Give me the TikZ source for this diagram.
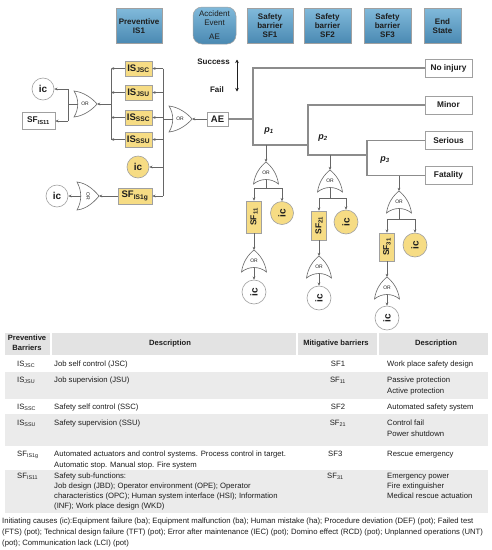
\documentclass[tikz,border=0pt]{standalone}
\usepackage{fontspec}
\setmainfont{Liberation Sans}
\usetikzlibrary{arrows.meta,shapes.geometric}
\definecolor{ylw}{HTML}{F6DC84}
\definecolor{bdr}{HTML}{A0A0A0}
\definecolor{lin}{HTML}{666666}
\definecolor{trc}{HTML}{8C8C8C}
\definecolor{blueT}{HTML}{80B9DA}
\definecolor{blueB}{HTML}{4A89B2}
\definecolor{rowg}{HTML}{EBEBEB}
\definecolor{hdrg}{HTML}{E3E3E3}
\definecolor{txt}{HTML}{1E1E1E}
\tikzset{
  gate/.style={draw=lin, line width=0.6pt, fill=white},
  gtxt/.style={font=\fontsize{5}{6}\selectfont, inner sep=0pt, text=txt},
  orh/.pic={
    \draw[gate] (0,-13) .. controls (10,-12) and (19,-5) .. (23,0) .. controls (19,5) and (10,12) .. (0,13) .. controls (5,5) and (5,-5) .. (0,-13) -- cycle;
    \node[gtxt] (-lbl) at (11,0) {OR};
    \coordinate (-tip) at (23,0);
    \coordinate (-back) at (3.75,0);
  },
  orhr/.pic={
    \draw[gate] (0,-14) .. controls (10,-13) and (18,-5) .. (22,0) .. controls (18,5) and (10,13) .. (0,14) .. controls (5,5) and (5,-5) .. (0,-14) -- cycle;
    \node[gtxt, rotate=-90] (-lbl) at (11,0) {OR};
    \coordinate (-tip) at (22,0);
    \coordinate (-back) at (3.75,0);
  },
  orv/.pic={
    \draw[gate] (0,0) .. controls (5,4) and (11,11) .. (12.5,22) .. controls (5,16) and (-5,16) .. (-12.5,22) .. controls (-11,11) and (-5,4) .. (0,0) -- cycle;
    \node[gtxt] (-lbl) at (0,10.5) {OR};
    \coordinate (-tip) at (0,0);
    \coordinate (-out) at (0,17.5);
  },
  hdr/.style={draw=bdr, line width=0.5pt, top color=blueT, bottom color=blueB, minimum width=46pt, minimum height=35pt, align=center, inner sep=1pt, font=\bfseries\fontsize{8}{9}\selectfont, text=txt},
  ybox/.style={draw=bdr, line width=0.6pt, fill=ylw, inner sep=1pt, font=\bfseries\fontsize{9.5}{10}\selectfont, text=txt},
  wbox/.style={draw=bdr, line width=0.6pt, fill=white, inner sep=1pt, font=\bfseries\fontsize{8.3}{10}\selectfont, text=txt},
  ycirc/.style={circle, draw=bdr, line width=0.6pt, fill=ylw, minimum size=22pt, inner sep=0pt, font=\bfseries\fontsize{10}{11}\selectfont, text=txt},
  wcirc/.style={circle, draw=bdr, line width=0.6pt, fill=white, minimum size=22pt, inner sep=0pt, font=\bfseries\fontsize{10}{11}\selectfont, text=txt},
  ln/.style={draw=lin, line width=0.7pt},
  arr/.style={draw=lin, line width=0.7pt, -{Stealth[length=3.2pt,width=2.8pt]}},
  trl/.style={draw=trc, line width=1.3pt},
  endbox/.style={draw=bdr, line width=0.6pt, fill=white, minimum width=47pt, minimum height=18pt, inner sep=1pt, font=\bfseries\fontsize{8.3}{10}\selectfont, text=txt},
  lbl/.style={inner sep=0pt, font=\bfseries\fontsize{8}{9}\selectfont, text=txt},
  plbl/.style={inner sep=0pt, font=\bfseries\itshape\fontsize{9}{10}\selectfont, text=txt},
  tt/.style={anchor=base west, inner sep=0pt, font=\fontsize{7.7}{9}\selectfont, text=txt},
  tc/.style={anchor=base, inner sep=0pt, font=\fontsize{7.7}{9}\selectfont, text=txt},
  th/.style={anchor=base, inner sep=0pt, font=\bfseries\fontsize{7.6}{9}\selectfont, text=txt},
}
\begin{document}
\begin{tikzpicture}[x=1pt,y=-1pt]
\useasboundingbox (0,0) rectangle (491,550);
\fill[white] (0,0) rectangle (491,550);

% ---------- header boxes ----------
\node[hdr] (hprev) at (139,26) {Preventive\\IS1};
\node[hdr, rounded corners=9pt, minimum width=43pt, minimum height=37pt, font=\fontsize{8}{9}\selectfont] (hae) at (214.5,25.5) {Accident\\Event\\[5pt]AE};
\node[hdr] (hsf1) at (270,26) {Safety\\barrier\\SF1};
\node[hdr, minimum width=47pt] (hsf2) at (327.5,26) {Safety\\barrier\\SF2};
\node[hdr, minimum width=47pt] (hsf3) at (387.5,26) {Safety\\barrier\\SF3};
\node[hdr, minimum width=37pt] (hend) at (442.5,26) {End\\State};

% ---------- success / fail ----------
\node[lbl, anchor=east] (succ) at (230,62) {Success};
\node[lbl, anchor=east] (fail) at (224,90) {Fail};
\coordinate (sa) at (237,59.5);
\coordinate (sb) at (237,91.5);
\draw[draw=txt, line width=0.8pt, {Stealth[length=3.5pt,width=3.5pt]}-{Stealth[length=3.5pt,width=3.5pt]}] (sa) -- (sb);

% ---------- preventive side ----------
\node[ybox, minimum width=27pt, minimum height=15pt] (isjsc) at (138.5,68.5) {IS\textsubscript{JSC}};
\node[ybox, minimum width=27pt, minimum height=15pt] (isjsu) at (138.5,92.5) {IS\textsubscript{JSU}};
\node[ybox, minimum width=27pt, minimum height=15pt] (isssc) at (138.5,117.5) {IS\textsubscript{SSC}};
\node[ybox, minimum width=27pt, minimum height=15pt] (isssu) at (138.5,139.5) {IS\textsubscript{SSU}};
\node[ycirc] (icy0) at (138,167) {ic};
\node[ybox, minimum width=34pt, minimum height=16pt] (sfis1g) at (135,196) {SF\textsubscript{IS1g}};
\node[wbox, minimum width=33pt, minimum height=17pt] (sfis11) at (38.5,120.5) {SF\textsubscript{IS11}};
\node[wcirc] (icw0) at (43,89) {ic};
\node[wcirc] (icw00) at (57,196) {ic};
\node[wbox, minimum width=21pt, minimum height=14pt, font=\bfseries\fontsize{9.5}{10}\selectfont] (ae) at (217.5,119) {AE};

\pic (gae) at (169,119) {orh};
\pic (gl) at (74,104) {orh};
\pic (gb) at (77,196) {orhr};

% bus at x=163
\coordinate (b1t) at (163,68.5);
\coordinate (b1b) at (163,196);
\draw[ln] (b1t) -- (b1b);
\draw[arr] (b1t) -- (isjsc.east);
\draw[arr] (isjsu.east -| b1t) -- (isjsu.east);
\draw[arr] (isssc.east -| b1t) -- (isssc.east);
\draw[arr] (isssu.east -| b1t) -- (isssu.east);
\draw[arr] (icy0.east -| b1t) -- (icy0.east);
\draw[arr] (b1b) -- (sfis1g.east);
\draw[arr] (ae.west) -- (gae-tip);
\draw[ln] (gae-back) -- (gae-back -| b1t);

% bus at x=111
\coordinate (b2t) at (111,68.5);
\coordinate (b2b) at (111,139.5);
\draw[ln] (b2t) -- (b2b);
\draw[arr] (isjsc.west) -- (b2t);
\draw[arr] (isjsu.west) -- (isjsu.west -| b2t);
\draw[arr] (isssc.west) -- (isssc.west -| b2t);
\draw[arr] (isssu.west) -- (b2b);
\draw[arr] (gl-tip -| b2t) -- (gl-tip);

% bus at x=68
\coordinate (b3t) at (68,89);
\coordinate (b3b) at (68,121);
\draw[ln] (gl-back) -- (gl-back -| b3t);
\draw[ln] (b3t) -- (b3b);
\draw[arr] (b3t) -- (icw0.east);
\draw[arr] (b3b) -- (sfis11.east |- b3b);

\draw[arr] (sfis1g.west) -- (gb-tip);
\draw[arr] (gb-back) -- (icw00.east);

% ---------- event tree ----------
\node[endbox] (noinj) at (448.5,68) {No injury};
\node[endbox] (minor) at (448.5,105) {Minor};
\node[endbox] (serious) at (448.5,140.5) {Serious};
\node[endbox] (fatal) at (448.5,175.5) {Fatality};

\coordinate (j0) at (253,119);
\coordinate (j1) at (253,145);
\coordinate (k1) at (308,145);
\coordinate (k2) at (308,155);
\coordinate (m1) at (367,155);
\draw[trl] (ae.east) -- (j0);
\draw[trl] (noinj.west) -| (j1) -- (k1);
\draw[trl] (minor.west) -| (k2) -- (m1);
\draw[trl] (serious.west) -| (fatal.west -| m1) -- (fatal.west);

\node[plbl] (p1) at (269,131) {p\textsubscript{1}};
\node[plbl] (p2) at (323,138) {p\textsubscript{2}};
\node[plbl] (p3) at (385,160) {p\textsubscript{3}};

% ---------- fault trees below ----------
% tree 1
\coordinate (d1) at (266,145);
\pic (t1a) at (266,162) {orv};
\coordinate (s1) at (266,188);
\node[ybox, minimum width=15pt, minimum height=32pt, font=\bfseries\fontsize{8.5}{10}\selectfont] (sf11) at (254,217) {\rotatebox{90}{SF\textsubscript{11}}};
\node[ycirc, minimum size=23pt] (icy1) at (282,213) {\rotatebox{90}{ic}};
\pic (t1b) at (254,250) {orv};
\node[wcirc, minimum size=24pt] (icw1) at (254,292) {\rotatebox{90}{ic}};
\draw[arr] (d1) -- (t1a-tip);
\draw[ln] (t1a-out) -- (s1);
\draw[arr] (s1) -| (sf11.north);
\draw[arr] (s1) -| (icy1.north);
\draw[arr] (sf11.south) -- (t1b-tip);
\draw[arr] (t1b-out) -- (icw1.north);

% tree 2
\coordinate (d2) at (330,155);
\pic (t2a) at (330,170) {orv};
\coordinate (s2) at (330,198);
\node[ybox, minimum width=15pt, minimum height=29pt, font=\bfseries\fontsize{8.5}{10}\selectfont] (sf21) at (319,225.5) {\rotatebox{90}{SF\textsubscript{21}}};
\node[ycirc, minimum size=24pt] (icy2) at (346,222) {\rotatebox{90}{ic}};
\pic (t2b) at (319,256) {orv};
\node[wcirc, minimum size=24pt] (icw2) at (319,298) {\rotatebox{90}{ic}};
\draw[arr] (d2) -- (t2a-tip);
\draw[ln] (t2a-out) -- (s2);
\draw[arr] (s2) -| (sf21.north);
\draw[arr] (s2) -| (icy2.north);
\draw[arr] (sf21.south) -- (t2b-tip);
\draw[arr] (t2b-out) -- (icw2.north);

% tree 3
\coordinate (d3) at (399,175.5);
\pic (t3a) at (399,191) {orv};
\coordinate (s3) at (399,219);
\node[ybox, minimum width=15pt, minimum height=28pt, font=\bfseries\fontsize{8.5}{10}\selectfont] (sf31) at (387,247) {\rotatebox{90}{SF\textsubscript{31}}};
\node[ycirc, minimum size=24pt] (icy3) at (415,245) {\rotatebox{90}{ic}};
\pic (t3b) at (387,277) {orv};
\node[wcirc, minimum size=24pt] (icw3) at (387,318) {\rotatebox{90}{ic}};
\draw[arr] (d3) -- (t3a-tip);
\draw[ln] (t3a-out) -- (s3);
\draw[arr] (s3) -| (sf31.north);
\draw[arr] (s3) -| (icy3.north);
\draw[arr] (sf31.south) -- (t3b-tip);
\draw[arr] (t3b-out) -- (icw3.north);

% ---------- table ----------
\fill[hdrg] (5,333) rectangle (488,355);
\fill[white] (50,333) rectangle (51.5,355);
\fill[white] (296,333) rectangle (297.5,355);
\fill[white] (377,333) rectangle (378.5,355);
\fill[rowg] (5,372) rectangle (488,399);
\fill[rowg] (5,414) rectangle (488,446);
\fill[rowg] (5,470) rectangle (488,513);

\node[th] (thA1) at (27,340) {Preventive};
\node[th] (thA2) at (27,350) {Barriers};
\node[th] (thB) at (170,345) {Description};
\node[th] (thC) at (336,345) {Mitigative barriers};
\node[th] (thD) at (436,345) {Description};

\node[tt] (r1a) at (17,366.5) {IS\textsubscript{JSC}};
\node[tt] (r1b) at (54,366.5) {Job self control (JSC)};
\node[tc] (r1c) at (338,366.5) {SF1};
\node[tt] (r1d) at (387,366.5) {Work place safety design};

\node[tt] (r2a) at (17,382.5) {IS\textsubscript{JSU}};
\node[tt] (r2b) at (54,382.5) {Job supervision (JSU)};
\node[tc] (r2c) at (338,382.5) {SF\textsubscript{11}};
\node[tt] (r2d) at (387,382.5) {Passive protection};
\node[tt] (r2e) at (387,393.5) {Active protection};

\node[tt] (r3a) at (17,409.5) {IS\textsubscript{SSC}};
\node[tt] (r3b) at (54,409.5) {Safety self control (SSC)};
\node[tc] (r3c) at (338,409.5) {SF2};
\node[tt] (r3d) at (387,409.5) {Automated safety system};

\node[tt] (r4a) at (17,425.5) {IS\textsubscript{SSU}};
\node[tt] (r4b) at (54,425.5) {Safety supervision (SSU)};
\node[tc] (r4c) at (338,425.5) {SF\textsubscript{21}};
\node[tt] (r4d) at (387,425.5) {Control fail};
\node[tt] (r4e) at (387,436) {Power shutdown};

\node[tt] (r5a) at (17,456.5) {SF\textsubscript{IS1g}};
\node[tt] (r5b) at (54,456.5) {Automated actuators and control systems. Process control in target.};
\node[tt] (r5b2) at (54,467) {Automatic stop. Manual stop. Fire system};
\node[tt] (r5c) at (328,456.5) {SF3};
\node[tt] (r5d) at (387,456.5) {Rescue emergency};

\node[tt] (r6a) at (17,478.5) {SF\textsubscript{IS11}};
\node[tt] (r6b) at (54,478.5) {Safety sub-functions:};
\node[tt] (r6b2) at (54,488.5) {Job design (JBD); Operator environment (OPE); Operator};
\node[tt] (r6b3) at (54,498.5) {characteristics (OPC); Human system interface (HSI); Information};
\node[tt] (r6b4) at (54,508.5) {(INF); Work place design (WKD)};
\node[tt] (r6c) at (327,478.5) {SF\textsubscript{31}};
\node[tt] (r6d) at (387,478.5) {Emergency power};
\node[tt] (r6d2) at (387,488.5) {Fire extinguisher};
\node[tt] (r6d3) at (387,498.5) {Medical rescue actuation};

\node[tt] (f1) at (2,523) {Initiating causes (ic):Equipment failure (ba); Equipment malfunction (ba); Human mistake (ha); Procedure deviation (DEF) (pot); Failed test};
\node[tt] (f2) at (2,534) {(FTS) (pot); Technical design failure (TFT) (pot); Error after maintenance (IEC) (pot); Domino effect (RCD) (pot); Unplanned operations (UNT)};
\node[tt] (f3) at (2,545) {(pot); Communication lack (LCI) (pot)};
\end{tikzpicture}
\end{document}
